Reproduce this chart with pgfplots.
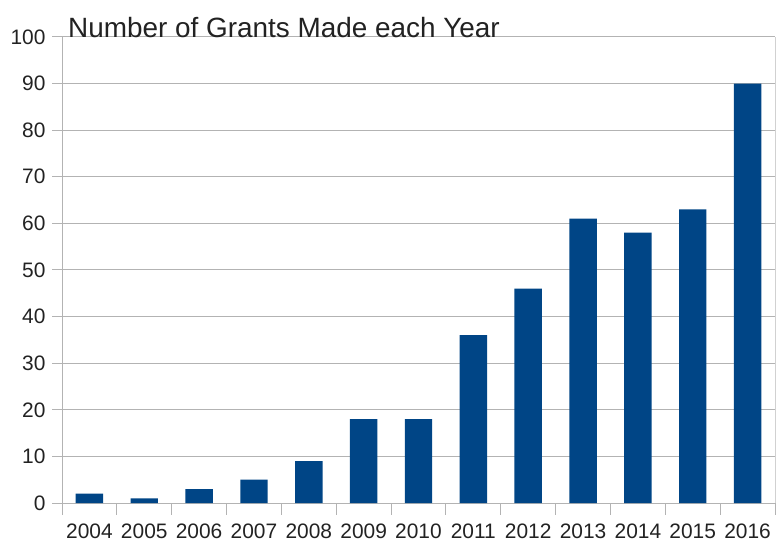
\documentclass[border=0pt]{standalone}
\usepackage{pgfplots}
\pgfplotsset{compat=1.18}
\usepackage{fontspec}
\setmainfont{Liberation Sans}
\definecolor{barblue}{HTML}{004586}
\definecolor{gridgray}{HTML}{B3B3B3}
\definecolor{txt}{HTML}{222222}
\begin{document}
\begin{tikzpicture}
\begin{axis}[
  scale only axis,
  width=713bp, height=466bp,
  xmin=-0.5, xmax=12.5,
  ymin=0, ymax=100,
  axis lines=left,
  axis line style={-, gridgray, line width=1pt},
  ytick={0,10,...,100},
  xtick={0,...,12},
  xticklabels={2004,2005,2006,2007,2008,2009,2010,2011,2012,2013,2014,2015,2016},
  tick align=outside,
  major tick length=10bp,
  x tick style={draw=none},
  y tick style={gridgray, line width=1pt},
  ymajorgrids,
  major grid style={gridgray, line width=1pt},
  /pgf/number format/assume math mode=true,
  ticklabel style={font=\fontsize{21}{24}\selectfont, text=txt},
  yticklabel style={xshift=-3bp},
  xticklabel style={yshift=-7bp},
  clip=false,
]
\addplot [ybar, bar width=0.5, fill=barblue, draw=none]
coordinates {
  (0,2) (1,1) (2,3) (3,5) (4,9) (5,18) (6,18)
  (7,36) (8,46) (9,61) (10,58) (11,63) (12,90)
};
% category separators below the x axis
\pgfplotsinvokeforeach{-0.5,0.5,1.5,2.5,3.5,4.5,5.5,6.5,7.5,8.5,9.5,10.5,11.5,12.5}{
  \draw [gridgray, line width=1pt] (axis cs:#1,0) -- ([yshift=-12bp]axis cs:#1,0);
}
\node [anchor=base west, inner sep=0pt, text=txt,
  font=\fontsize{28}{30}\selectfont]
  at ([xshift=6bp, yshift=-1bp]rel axis cs:0,1) {Number of Grants Made each Year};
\draw [gridgray!60, line width=0.6pt] (rel axis cs:1,0) -- (rel axis cs:1,1);
\end{axis}
\path ([shift={(-62bp,-40bp)}]current axis.south west) rectangle ([shift={(1bp,37bp)}]current axis.north east);
\end{tikzpicture}
\end{document}
